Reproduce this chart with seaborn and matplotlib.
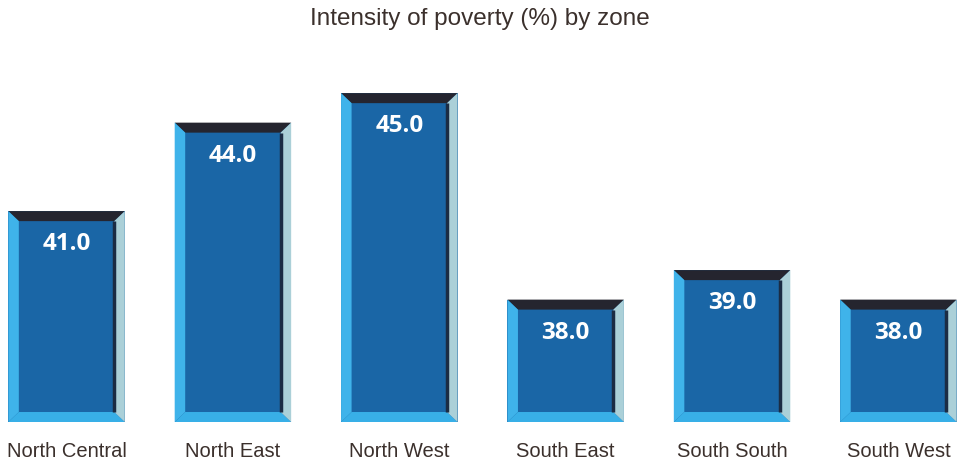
import matplotlib
matplotlib.use("Agg")
import matplotlib.pyplot as plt
import seaborn as sns
import pandas as pd
from matplotlib.patches import Polygon

# ---- data ----
zones = ["North Central", "North East", "North West", "South East", "South South", "South West"]
intensity = [41.0, 44.0, 45.0, 38.0, 39.0, 38.0]

df = pd.DataFrame({"zone": zones, "intensity": intensity})

sns.set_style("white")
plt.rcParams["font.family"] = ["Liberation Sans", "DejaVu Sans"]

fig = plt.figure(figsize=(9.58, 4.66), dpi=100)
ax_h = 0.769
ax = fig.add_axes([0, 0.0944, 1, ax_h])

sns.barplot(data=df, x="zone", y="intensity", color="#1a66a6", width=0.7,
            saturation=1, edgecolor="none", ax=ax)
ax.set_xlim(-0.4, 5.358)
ax.set_ylim(33.85, 46)

# bevel size in data units (about 10 px each way)
ax_w_px = fig.get_figwidth() * fig.dpi * 1.0
ax_h_px = fig.get_figheight() * fig.dpi * ax_h
bx = 10.5 / (ax_w_px / (ax.get_xlim()[1] - ax.get_xlim()[0]))
by = 10.0 / (ax_h_px / (ax.get_ylim()[1] - ax.get_ylim()[0]))

yb = ax.get_ylim()[0]
for p, v in zip(ax.patches, intensity):
    x0 = p.get_x()
    x1 = x0 + p.get_width()
    yt = p.get_height()
    ax.add_patch(Polygon([(x0, yt), (x1, yt), (x1 - bx, yt - by), (x0 + bx, yt - by)],
                         closed=True, color="#25252f", lw=0))
    ax.add_patch(Polygon([(x0, yt), (x0 + bx, yt - by), (x0 + bx, yb + by), (x0, yb)],
                         closed=True, color="#3fb3ea", lw=0))
    ax.add_patch(Polygon([(x0, yb), (x0 + bx, yb + by), (x1 - bx, yb + by), (x1, yb)],
                         closed=True, color="#38afe7", lw=0))
    ax.add_patch(Polygon([(x1, yt), (x1, yb), (x1 - bx, yb + by), (x1 - bx, yt - by)],
                         closed=True, color="#abd0d8", lw=0))
    ax.plot([x1 - bx, x1 - bx], [yt - by, yb + by], color="#1b2c44", lw=2.5,
            solid_capstyle="butt")
    ax.text(x0 + p.get_width() / 2, yt - 1.12, f"{v:.1f}", ha="center", va="center",
            color="white", fontsize=17.5, fontweight="bold", family=["Open Sans", "DejaVu Sans"])

sns.despine(ax=ax, left=True, bottom=True)
ax.set_yticks([])
ax.set_xlabel("")
ax.set_ylabel("")
ax.tick_params(axis="x", length=0, labelsize=14.5, labelcolor="#3b302c", pad=14.5)

fig.text(0.501, 1 - 19 / 466, "Intensity of poverty (%) by zone", ha="center", va="center",
         fontsize=17.5, color="#3b302c")

fig.savefig("out.png", dpi=100)
